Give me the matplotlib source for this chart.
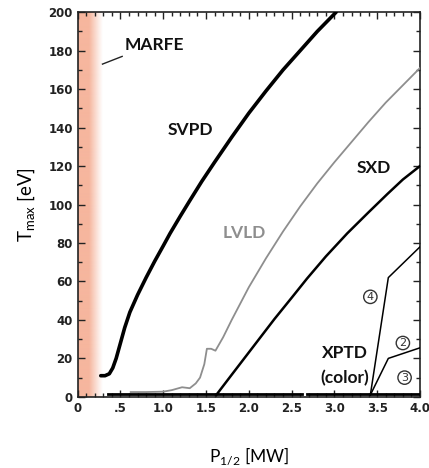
import numpy as np
import matplotlib
matplotlib.use("Agg")
import matplotlib.pyplot as plt
from matplotlib.ticker import MultipleLocator, FixedLocator

# ---- data ----
svpd_x = [0.27, 0.32, 0.37, 0.41, 0.45, 0.50, 0.55, 0.61, 0.70, 0.80, 0.90, 1.00, 1.08,
          1.20, 1.31, 1.45, 1.60, 1.80, 2.00, 2.20, 2.40, 2.60, 2.80, 3.02]
svpd_y = [11, 11, 12, 15, 20, 28, 36, 44, 53, 62, 70.5, 78.5, 85,
          94, 102, 112, 122, 135, 147.5, 159, 170, 180, 190, 200]

lvld_x = [0.62, 0.80, 1.00, 1.10, 1.22, 1.31, 1.38, 1.43, 1.48, 1.51, 1.56, 1.61, 1.70,
          1.80, 2.00, 2.20, 2.40, 2.60, 2.80, 3.00, 3.20, 3.40, 3.60, 3.80, 4.00]
lvld_y = [2.5, 2.5, 2.7, 3.5, 5, 4.5, 7, 10, 17, 25, 25, 24, 31,
          40, 57, 72, 86, 99, 111, 122, 132.5, 143, 153, 162, 171]

sxd_x = [1.62, 1.80, 2.05, 2.30, 2.50, 2.68, 2.90, 3.15, 3.40, 3.62, 3.80, 4.00]
sxd_y = [1, 11.5, 26, 40.5, 51.5, 61.5, 73, 85, 96, 105.5, 113, 120]

xptd4_x = [3.42, 3.63, 4.00]
xptd4_y = [1, 62, 78]
xptd2_x = [3.42, 3.63, 4.00]
xptd2_y = [1, 20, 25.5]

base1_x = [0.35, 2.62]
base1_y = [1.5, 1.5]
base2_x = [2.68, 4.00]
base2_y = [1.5, 1.5]

marfe_limit = 0.29

xtick_vals = [0, 0.5, 1.0, 1.5, 2.0, 2.5, 3.0, 3.5, 4.0]
xtick_labels = ["0", ".5", "1.0", "1.5", "2.0", "2.5", "3.0", "3.5", "4.0"]
ytick_vals = [0, 20, 40, 60, 80, 100, 120, 140, 160, 180, 200]

# ---- figure ----
fig = plt.figure(figsize=(4.29, 4.68), dpi=100)
ax = fig.add_axes([0.181, 0.152, 0.798, 0.822])
ax.set_xlim(0, 4.0)
ax.set_ylim(0, 200)

# MARFE gradient band
n = 200
grad = np.zeros((1, n, 4))
t = np.linspace(0, 1, n)
alpha = np.clip((1.0 - t) / 0.55, 0, 1) ** 1.1
grad[0, :, 0] = 246 / 255
grad[0, :, 1] = 182 / 255
grad[0, :, 2] = 158 / 255
grad[0, :, 3] = alpha
ax.imshow(grad, extent=[0, marfe_limit, 0, 200], aspect="auto", zorder=0,
          interpolation="bilinear")

ax.plot(lvld_x, lvld_y, color="#8e8e8e", lw=1.3, zorder=3)
ax.plot(svpd_x, svpd_y, color="black", lw=2.6, zorder=4, solid_capstyle="round",
        solid_joinstyle="round")
ax.plot(sxd_x, sxd_y, color="black", lw=1.8, zorder=4, solid_joinstyle="round")
ax.plot(xptd4_x, xptd4_y, color="black", lw=1.1, zorder=4)
ax.plot(xptd2_x, xptd2_y, color="black", lw=1.1, zorder=4)
ax.plot(base1_x, base1_y, color="black", lw=2.0, zorder=4)
ax.plot(base2_x, base2_y, color="black", lw=2.0, zorder=4)

# labels
lab = dict(fontfamily="Lato", fontweight="bold", fontsize=12.5, color="#111111")
ax.text(0.55, 183, "MARFE", ha="left", va="center", **lab)
ax.plot([0.29, 0.52], [173, 177], color="#222222", lw=1.0, zorder=5)
ax.text(1.32, 139, "SVPD", ha="center", va="center", **lab)
ax.text(1.95, 85, "LVLD", ha="center", va="center", fontfamily="Lato",
        fontweight="bold", fontsize=12.5, color="#8e8e8e")
ax.text(3.46, 119, "SXD", ha="center", va="center", **lab)
ax.text(3.12, 23, "XPTD", ha="center", va="center", **lab)
ax.text(3.12, 9.5, "(color)", ha="center", va="center", **lab)

circ = dict(fontsize=8, ha="center", va="center", color="#333333",
            bbox=dict(boxstyle="circle,pad=0.15", fc="white", ec="#333333", lw=1.0))
ax.text(3.42, 52, "4", **circ)
ax.text(3.80, 28, "2", **circ)
ax.text(3.82, 10, "3", **circ)

# ticks
ax.xaxis.set_major_locator(FixedLocator(xtick_vals))
ax.set_xticklabels(xtick_labels)
ax.xaxis.set_minor_locator(MultipleLocator(0.1))
ax.yaxis.set_major_locator(FixedLocator(ytick_vals))
ax.yaxis.set_minor_locator(MultipleLocator(10))
ax.tick_params(which="both", direction="in", top=True, right=True,
               labelsize=8.5, width=1.0, color="#222222")
ax.tick_params(which="major", length=5)
ax.tick_params(which="minor", length=3)
for lbl in ax.get_xticklabels() + ax.get_yticklabels():
    lbl.set_fontweight("bold")
    lbl.set_color("#222222")
ax.tick_params(axis="x", pad=4)

for s in ax.spines.values():
    s.set_linewidth(1.2)
    s.set_color("#222222")

ax.set_ylabel(r"T$_{\mathregular{max}}$ [eV]", fontfamily="Lato", fontsize=13.5,
              labelpad=8)
ax.set_xlabel(r"P$_{\mathregular{1/2}}$ [MW]", fontfamily="Lato", fontsize=12.5,
              labelpad=22)

fig.savefig("out.png", dpi=100)
